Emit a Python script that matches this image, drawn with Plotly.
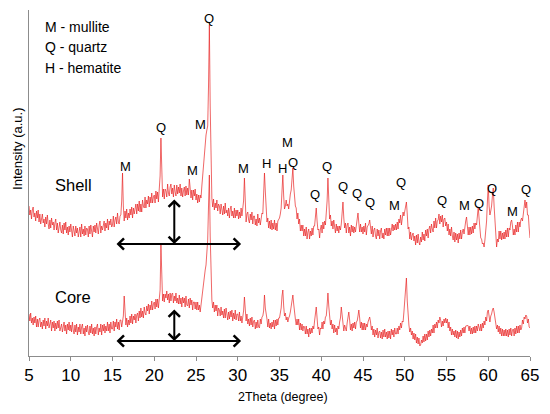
import numpy as np
import plotly.graph_objects as go

# XRD patterns, 0.1 degree steps from 5 to 65 (2Theta)
two_theta = np.round(np.linspace(5, 65, 601), 1)

shell_rows = [
    [150, 141, 146, 137, 146, 149, 139, 143, 135, 145],  # 5
    [138, 146, 134, 142, 132, 140, 142, 133, 137, 129],  # 6
    [139, 132, 141, 132, 127, 136, 128, 138, 131, 134],  # 7
    [126, 133, 137, 126, 133, 123, 131, 134, 126, 123],  # 8
    [131, 122, 133, 126, 134, 123, 129, 121, 130, 124],  # 9
    [132, 123, 119, 130, 126, 120, 130, 123, 128, 119],  # 10
    [124, 129, 119, 132, 122, 127, 120, 130, 121, 128],  # 11
    [127, 119, 130, 122, 131, 125, 119, 130, 124, 131],  # 12
    [123, 133, 125, 122, 131, 135, 123, 130, 126, 133],  # 13
    [135, 125, 133, 128, 137, 126, 135, 131, 137, 129],  # 14
    [131, 140, 129, 136, 139, 132, 143, 134, 132, 140],  # 15
    [141, 155, 183, 150, 135, 145, 138, 147, 136, 143],  # 16
    [138, 147, 141, 149, 138, 148, 142, 147, 152, 142],  # 17
    [152, 145, 155, 144, 152, 144, 156, 150, 148, 159],  # 18
    [148, 156, 152, 160, 149, 159, 153, 163, 153, 159],  # 19
    [161, 153, 165, 157, 164, 154, 163, 180, 218, 175],  # 20
    [159, 167, 157, 167, 165, 159, 172, 163, 160, 169],  # 21
    [172, 162, 168, 159, 171, 164, 160, 171, 162, 169],  # 22
    [163, 172, 160, 168, 159, 165, 169, 160, 170, 161],  # 23
    [168, 161, 177, 168, 158, 166, 156, 166, 160, 167],  # 24
    [156, 162, 153, 161, 154, 161, 158, 170, 181, 195],  # 25
    [206, 214, 221, 226, 230, 270, 331, 250, 171, 158],  # 26
    [149, 157, 146, 153, 148, 156, 145, 152, 150, 142],  # 27
    [152, 145, 141, 150, 142, 153, 143, 146, 140, 148],  # 28
    [138, 147, 150, 140, 145, 138, 148, 138, 146, 140],  # 29
    [146, 137, 144, 138, 148, 140, 147, 155, 178, 160],  # 30
    [134, 142, 144, 136, 133, 142, 136, 144, 132, 140],  # 31
    [140, 131, 137, 130, 142, 133, 138, 131, 140, 143],  # 32
    [142, 160, 183, 165, 145, 134, 138, 128, 135, 127],  # 33
    [136, 126, 133, 127, 136, 126, 133, 125, 135, 136],  # 34
    [138, 142, 148, 165, 181, 160, 147, 150, 156, 150],  # 35
    [152, 147, 158, 162, 166, 175, 188, 170, 158, 150],  # 36
    [148, 137, 143, 132, 137, 125, 131, 125, 131, 120],  # 37
    [127, 120, 129, 117, 124, 127, 117, 125, 120, 128],  # 38
    [121, 130, 130, 138, 148, 135, 126, 127, 118, 127],  # 39
    [131, 123, 134, 127, 135, 131, 141, 155, 178, 155],  # 40
    [137, 141, 130, 135, 127, 136, 127, 123, 132, 125],  # 41
    [130, 123, 130, 126, 132, 140, 154, 138, 128, 133],  # 42
    [123, 131, 133, 123, 129, 120, 131, 124, 130, 123],  # 43
    [129, 124, 133, 135, 143, 133, 124, 132, 124, 129],  # 44
    [122, 130, 124, 133, 121, 129, 131, 132, 136, 130],  # 45
    [122, 130, 119, 126, 128, 120, 117, 127, 120, 126],  # 46
    [117, 125, 128, 118, 123, 117, 127, 121, 128, 120],  # 47
    [128, 120, 128, 121, 130, 132, 125, 131, 126, 132],  # 48
    [126, 134, 127, 137, 133, 141, 131, 140, 144, 140],  # 49
    [146, 150, 154, 142, 127, 129, 117, 124, 116, 121],  # 50
    [123, 115, 120, 111, 121, 113, 122, 114, 111, 119],  # 51
    [114, 124, 116, 122, 115, 126, 120, 127, 118, 127],  # 52
    [130, 123, 132, 127, 124, 135, 128, 138, 128, 135],  # 53
    [136, 142, 132, 140, 134, 141, 129, 137, 138, 130],  # 54
    [134, 125, 132, 121, 127, 120, 129, 120, 116, 124],  # 55
    [114, 123, 116, 122, 113, 123, 117, 126, 117, 124],  # 56
    [127, 122, 132, 135, 139, 128, 121, 129, 121, 129],  # 57
    [122, 130, 123, 133, 127, 133, 131, 140, 149, 138],  # 58
    [125, 118, 117, 112, 113, 109, 116, 125, 135, 155],  # 59
    [171, 150, 141, 145, 150, 160, 168, 150, 132, 120],  # 60
    [109, 117, 114, 125, 117, 125, 116, 123, 117, 124],  # 61
    [117, 126, 119, 128, 119, 128, 126, 134, 136, 130],  # 62
    [121, 127, 121, 131, 124, 134, 124, 134, 129, 136],  # 63
    [138, 135, 145, 148, 156, 148, 154, 141, 141, 128],  # 64
    [118],                                                # 65
]

core_rows = [
    [42, 35, 43, 33, 38, 31, 39, 33, 40, 29],  # 5
    [37, 29, 36, 38, 29, 34, 27, 36, 30, 38],  # 6
    [27, 35, 30, 38, 28, 33, 36, 25, 34, 28],  # 7
    [35, 25, 33, 27, 35, 28, 36, 25, 31, 32],  # 8
    [24, 31, 34, 25, 31, 22, 32, 26, 34, 25],  # 9
    [31, 24, 34, 26, 22, 31, 24, 32, 21, 29],  # 10
    [24, 32, 22, 29, 32, 22, 28, 20, 30, 24],  # 11
    [31, 24, 21, 30, 23, 32, 22, 28, 20, 29],  # 12
    [22, 29, 32, 21, 28, 24, 32, 21, 31, 25],  # 13
    [32, 23, 30, 25, 34, 25, 32, 23, 34, 27],  # 14
    [27, 35, 25, 34, 29, 37, 27, 34, 26, 36],  # 15
    [36, 29, 38, 40, 60, 38, 31, 38, 29, 36],  # 16
    [31, 40, 33, 42, 32, 40, 36, 42, 33, 41],  # 17
    [43, 35, 45, 38, 48, 39, 45, 38, 49, 43],  # 18
    [41, 50, 45, 52, 42, 51, 46, 55, 46, 52],  # 19
    [54, 47, 57, 49, 57, 48, 57, 66, 111, 75],  # 20
    [55, 62, 54, 62, 58, 65, 56, 62, 53, 63],  # 21
    [55, 62, 63, 53, 60, 55, 63, 53, 58, 52],  # 22
    [61, 52, 58, 49, 59, 53, 58, 49, 60, 51],  # 23
    [50, 57, 48, 58, 51, 56, 46, 54, 54, 47],  # 24
    [54, 46, 54, 46, 51, 44, 52, 58, 66, 75],  # 25
    [81, 86, 91, 100, 116, 150, 181, 120, 66, 56],  # 26
    [48, 54, 44, 51, 45, 51, 40, 48, 46, 40],  # 27
    [49, 41, 45, 38, 47, 38, 48, 40, 36, 44],  # 28
    [37, 45, 39, 46, 35, 43, 37, 46, 36, 42],  # 29
    [42, 35, 44, 35, 40, 33, 39, 45, 59, 45],  # 30
    [35, 42, 32, 37, 30, 38, 31, 39, 29, 35],  # 31
    [36, 27, 34, 28, 36, 29, 28, 37, 32, 39],  # 32
    [40, 45, 61, 48, 38, 37, 29, 37, 28, 33],  # 33
    [27, 34, 29, 36, 27, 36, 30, 37, 31, 38],  # 34
    [38, 43, 48, 60, 66, 50, 40, 43, 36, 39],  # 35
    [34, 38, 40, 44, 50, 58, 61, 52, 42, 37],  # 36
    [31, 37, 31, 37, 26, 33, 26, 32, 25, 30],  # 37
    [29, 22, 30, 22, 27, 19, 28, 22, 28, 23],  # 38
    [30, 27, 35, 42, 49, 38, 27, 29, 21, 28],  # 39
    [27, 34, 27, 35, 32, 39, 40, 50, 63, 50],  # 40
    [40, 31, 36, 27, 32, 23, 31, 24, 28, 21],  # 41
    [30, 27, 34, 38, 49, 40, 32, 25, 31, 26],  # 42
    [25, 33, 37, 44, 36, 26, 32, 25, 33, 28],  # 43
    [34, 27, 34, 35, 40, 46, 38, 28, 34, 26],  # 44
    [33, 26, 33, 26, 32, 29, 34, 38, 39, 34],  # 45
    [26, 30, 21, 27, 19, 26, 21, 28, 18, 24],  # 46
    [25, 18, 24, 17, 26, 19, 27, 19, 24, 17],  # 47
    [25, 18, 25, 17, 27, 21, 26, 19, 28, 22],  # 48
    [22, 28, 22, 30, 26, 33, 28, 35, 34, 44],  # 49
    [56, 70, 78, 55, 38, 31, 24, 28, 21, 25],  # 50
    [17, 23, 16, 22, 13, 19, 12, 18, 10, 11],  # 51
    [16, 13, 20, 14, 22, 15, 22, 16, 25, 19],  # 52
    [26, 20, 27, 23, 31, 23, 32, 28, 34, 28],  # 53
    [36, 33, 39, 36, 29, 35, 30, 37, 33, 38],  # 54
    [33, 37, 28, 34, 25, 29, 21, 27, 21, 25],  # 55
    [19, 26, 18, 25, 17, 24, 19, 26, 20, 28],  # 56
    [23, 29, 23, 30, 30, 31, 30, 25, 30, 22],  # 57
    [28, 22, 29, 23, 30, 23, 30, 25, 32, 26],  # 58
    [25, 32, 25, 33, 28, 35, 31, 39, 35, 44],  # 59
    [46, 40, 34, 40, 42, 46, 48, 44, 36, 33],  # 60
    [27, 31, 24, 30, 22, 28, 20, 27, 20, 26],  # 61
    [20, 27, 20, 26, 19, 27, 21, 28, 20, 26],  # 62
    [27, 20, 28, 22, 30, 23, 30, 23, 31, 26],  # 63
    [28, 36, 32, 39, 37, 41, 40, 33, 37, 29],  # 64
    [28],                                      # 65
]

shell = [v for row in shell_rows for v in row]
core = [v for row in core_rows for v in row]

# phase labels above the shell peaks
peak_x = [26.6, 16.5, 20.8, 24.6, 25.5, 30.7, 33.4, 35.3, 36.0, 36.6, 39.25,
          40.7, 42.6, 44.3, 45.8, 48.8, 49.55, 54.5, 57.2, 58.9, 60.45, 62.85, 64.5]
peak_y = [338, 190, 229, 186, 232, 188, 193, 188, 214, 194, 162,
          190, 170, 163, 154, 151, 174, 156, 151, 153, 168, 145, 167]
peak_txt = ['Q', 'M', 'Q', 'M', 'M', 'M', 'H', 'H', 'M', 'Q', 'Q',
            'Q', 'Q', 'Q', 'Q', 'M', 'Q', 'Q', 'M', 'Q', 'Q', 'M', 'Q']

key_lines = ['M - mullite', 'Q - quartz', 'H - hematite']
key_y = [329, 309, 288]

# amorphous hump arrows: horizontal span, vertical arrow position, (base, top) levels
hump_span = [15.3, 30.4]
hump_x = 22.4
shell_arrow = [112, 158]
core_arrow = [15, 48]

FONT = "Liberation Sans, Arial, sans-serif"
RED = "rgba(232,30,30,0.85)"

fig = go.Figure()
for y in (shell, core):
    fig.add_trace(go.Scatter(x=two_theta, y=y, mode='lines',
                             line=dict(color=RED, width=0.8), hoverinfo='skip'))

annotations = []
for x, y, t in zip(peak_x, peak_y, peak_txt):
    annotations.append(dict(x=x, y=y, text=t, showarrow=False,
                            font=dict(size=13, color='black')))
for t, y in zip(key_lines, key_y):
    annotations.append(dict(x=6.7, y=y, text=t, showarrow=False, xanchor='left',
                            font=dict(size=14, color='black')))
annotations.append(dict(x=7.9, y=171, text='Shell', showarrow=False, xanchor='left',
                        font=dict(size=16.5, color='black')))
annotations.append(dict(x=7.9, y=59, text='Core', showarrow=False, xanchor='left',
                        font=dict(size=16.5, color='black')))

arrow_style = dict(showarrow=True, text='', axref='x', ayref='y', arrowcolor='black',
                   arrowwidth=2, arrowhead=4, startarrowhead=4, arrowsize=1.1,
                   startarrowsize=1.1, arrowside='end+start')
for base, top in (shell_arrow, core_arrow):
    annotations.append(dict(x=hump_span[1], y=base, ax=hump_span[0], ay=base, **arrow_style))
    annotations.append(dict(x=hump_x, y=base, ax=hump_x, ay=top, **arrow_style))

annotations.append(dict(xref='paper', yref='paper', x=-0.023, y=0.60, text='Intensity (a.u.)',
                        xanchor='center', yanchor='middle', textangle=-90, showarrow=False,
                        font=dict(size=13, color='black')))
annotations.append(dict(xref='paper', yref='paper', x=0.507, y=-0.1185, text='2Theta (degree)',
                        xanchor='center', yanchor='middle', showarrow=False,
                        font=dict(size=12.5, color='black')))

# page body keeps an 8px margin, so the figure is sized to sit inside it
fig.update_layout(
    width=534, height=398,
    margin=dict(l=21, r=12, t=2, b=50),
    plot_bgcolor='white', paper_bgcolor='white',
    showlegend=False,
    font=dict(family=FONT, color='black'),
    annotations=annotations,
)
fig.update_xaxes(range=[5, 65], tickvals=list(range(5, 70, 5)), showgrid=False,
                 zeroline=False, showline=True, linecolor='#8c8c8c', linewidth=1,
                 ticks='outside', ticklen=4, tickcolor='#8c8c8c',
                 tickfont=dict(size=17, color='black'))
fig.update_yaxes(range=[0, 346], showgrid=False, zeroline=False, showline=True,
                 linecolor='#8c8c8c', linewidth=1, showticklabels=False, ticks='')

fig.write_html("out.html")
